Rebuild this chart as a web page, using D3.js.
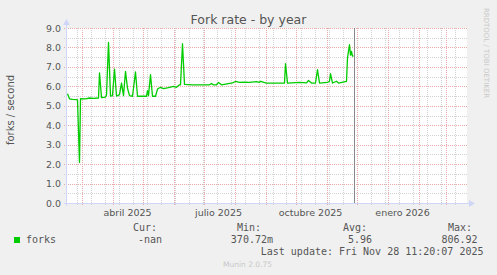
<!DOCTYPE html>
<html>
<head>
<meta charset="utf-8">
<script src="https://cdn.jsdelivr.net/npm/d3@7"></script>
<style>
body { margin:0; background:#f0f0f0; }
svg { display:block; }
</style>
</head>
<body>
<svg id="chart" width="497" height="275"></svg>
<script>
// forks/second (points where the line changes)
var dates = ["2025-02-15","2025-02-17","2025-02-20","2025-02-24","2025-02-25","2025-02-27","2025-02-28",
  "2025-03-05","2025-03-09","2025-03-13","2025-03-18","2025-03-19","2025-03-21","2025-03-25","2025-03-26",
  "2025-03-28","2025-03-30","2025-04-01","2025-04-03","2025-04-05","2025-04-08","2025-04-10","2025-04-12",
  "2025-04-14","2025-04-16","2025-04-18","2025-04-21","2025-04-24","2025-04-26","2025-05-05","2025-05-06",
  "2025-05-07","2025-05-09","2025-05-11","2025-05-14","2025-05-16","2025-05-19","2025-05-22","2025-05-27",
  "2025-06-01","2025-06-04","2025-06-07","2025-06-08","2025-06-10","2025-06-12","2025-06-20","2025-07-01",
  "2025-07-07","2025-07-09","2025-07-11","2025-07-14","2025-07-16","2025-07-19","2025-07-30","2025-08-02",
  "2025-08-06","2025-08-11","2025-08-16","2025-08-23","2025-08-26","2025-08-27","2025-09-02","2025-09-20",
  "2025-09-21","2025-09-23","2025-10-05","2025-10-12","2025-10-14","2025-10-17","2025-10-21","2025-10-23",
  "2025-10-25","2025-11-02","2025-11-04","2025-11-05","2025-11-07","2025-11-11","2025-11-13","2025-11-21",
  "2025-11-22","2025-11-24","2025-11-25","2025-11-26","2025-11-27","2025-11-28"];
var values = [5.62,5.36,5.33,5.32,5.30,2.09,5.37,
  5.36,5.40,5.38,5.40,6.69,5.42,5.45,5.55,
  8.26,5.50,5.52,6.89,5.50,5.57,6.17,5.52,
  6.77,5.90,5.52,5.49,6.74,5.49,5.49,5.78,
  5.52,6.60,5.49,5.49,5.86,5.95,5.88,5.93,
  6.00,5.95,6.08,6.08,8.19,6.10,6.07,6.08,
  6.08,6.15,6.07,6.08,6.20,6.08,6.18,6.25,
  6.20,6.22,6.20,6.24,6.20,6.26,6.17,6.17,
  7.17,6.17,6.20,6.18,6.30,6.17,6.17,6.86,
  6.17,6.20,6.26,6.65,6.17,6.26,6.17,6.26,
  7.46,8.14,7.60,7.80,7.55,7.58];

var yTicks = [0,1,2,3,4,5,6,7,8,9];
var monthLabels = ["abril 2025","julio 2025","octubre 2025","enero 2026"];
var labelDates = ["2025-04-16","2025-07-16","2025-10-16","2026-01-16"];
var legendHeads = ["Cur:","Min:","Avg:","Max:"];
var legendValues = ["-nan","370.72m","5.96","806.92"];
var lastUpdate = "Last update: Fri Nov 28 11:20:07 2025";
var nowTime = new Date(2025,10,28,11,20,7);

var parse = d3.timeParse("%Y-%m-%d");
var data = dates.map(function(d,i){ return {t: parse(d), v: values[i]}; });

var svg = d3.select("#chart");
var left = 67, right = 467, topY = 28, bottom = 203;
var start = new Date(2025,1,14,12), end = new Date(2026,2,21,12);

var x = d3.scaleTime().domain([start,end]).range([left,right]);
var y = d3.scaleLinear().domain([0,9]).range([bottom,topY]);

var sans = "'DejaVu Sans', sans-serif";
var mono = "'DejaVu Sans Mono', monospace";
var font = "#555";
var minorCol = "#d2d2d2", majorCol = "#e8a9a9", axisCol = "#cfd6f8";

// canvas
svg.append("rect").attr("x",left).attr("y",topY).attr("width",right-left).attr("height",bottom-topY).attr("fill","#fff");

function px(v){ return Math.round(v)+0.5; }

// minor grid: every 0.5 / every two weeks
var ref = new Date(2025,1,24);
var weeks = d3.timeMonday.range(start,end).filter(function(d){
  return Math.round((d-ref)/6048e5) % 2 === 0; });
var months = d3.timeMonth.range(start,end);
var halfTicks = d3.range(0.5,9,1);

svg.append("g").selectAll("line").data(halfTicks).enter().append("line")
  .attr("x1",left-3).attr("x2",right).attr("y1",function(d){return px(y(d));}).attr("y2",function(d){return px(y(d));})
  .attr("stroke",minorCol).attr("stroke-dasharray","1,1");
svg.append("g").selectAll("line").data(weeks).enter().append("line")
  .attr("x1",function(d){return px(x(d));}).attr("x2",function(d){return px(x(d));})
  .attr("y1",topY).attr("y2",bottom+3)
  .attr("stroke",minorCol).attr("stroke-dasharray","1,1");

// major grid
svg.append("g").selectAll("line").data(yTicks).enter().append("line")
  .attr("x1",left-3).attr("x2",right).attr("y1",function(d){return px(y(d));}).attr("y2",function(d){return px(y(d));})
  .attr("stroke",majorCol).attr("stroke-dasharray","1,1");
svg.append("g").selectAll("line").data(months).enter().append("line")
  .attr("x1",function(d){return px(x(d));}).attr("x2",function(d){return px(x(d));})
  .attr("y1",topY).attr("y2",bottom+3)
  .attr("stroke",majorCol).attr("stroke-dasharray","1,1");

// data line
svg.append("path").datum(data)
  .attr("d", d3.line().x(function(d){return x(d.t);}).y(function(d){return y(d.v);}))
  .attr("fill","none").attr("stroke","#00cc00").attr("stroke-width",1.3).attr("stroke-linejoin","round");

// now marker
svg.append("line").attr("x1",px(x(nowTime))).attr("x2",px(x(nowTime))).attr("y1",topY).attr("y2",bottom)
  .attr("stroke","#888").attr("stroke-width",1);

// axes with arrows
svg.append("line").attr("x1",left-0.5).attr("x2",left-0.5).attr("y1",bottom+3).attr("y2",topY-5).attr("stroke",axisCol);
svg.append("line").attr("x1",left-3).attr("x2",right+5).attr("y1",bottom+0.5).attr("y2",bottom+0.5).attr("stroke",axisCol);
svg.append("path").attr("d","M"+(left-4)+","+(topY-3)+"L"+(left-0.5)+","+(topY-9)+"L"+(left+3)+","+(topY-3)+"Z").attr("fill",axisCol);
svg.append("path").attr("d","M"+(right+2)+","+(bottom-3)+"L"+(right+8)+","+(bottom+0.5)+"L"+(right+2)+","+(bottom+4)+"Z").attr("fill",axisCol);

// y tick labels
svg.append("g").selectAll("text").data(yTicks).enter().append("text")
  .attr("x",61).attr("y",function(d){return y(d)+3.5;})
  .attr("text-anchor","end").style("font-family",sans).style("font-size","9.4px").attr("fill",font)
  .text(function(d){return d3.format(".1f")(d);});

// x labels (centred mid-month)
svg.append("g").selectAll("text").data(monthLabels).enter().append("text")
  .attr("x",function(d,i){return x(parse(labelDates[i]));}).attr("y",216)
  .attr("text-anchor","middle").style("font-family",sans).style("font-size","9.5px").attr("fill",font)
  .text(function(d){return d;});

// titles
svg.append("text").attr("x",248.5).attr("y",24).attr("text-anchor","middle")
  .style("font-family",sans).style("font-size","12.5px").attr("fill",font).text("Fork rate - by year");
svg.append("text").attr("transform","translate(14,110) rotate(-90)").attr("text-anchor","middle")
  .style("font-family",sans).style("font-size","10px").attr("fill",font).text("forks / second");
svg.append("text").attr("transform","translate(484,53) rotate(90)").attr("text-anchor","middle")
  .style("font-family",sans).style("font-size","7px").attr("fill","#c8c8c8").text("RRDTOOL / TOBI OETIKER");

// legend
var colX = [157,261,367,472], valX = [162,273,372,477.5];
svg.append("g").selectAll("text").data(legendHeads).enter().append("text")
  .attr("x",function(d,i){return colX[i];}).attr("y",230.5).attr("text-anchor","end")
  .style("font-family",mono).style("font-size","10px").attr("fill",font).text(function(d){return d;});
svg.append("g").selectAll("text").data(legendValues).enter().append("text")
  .attr("x",function(d,i){return valX[i];}).attr("y",243).attr("text-anchor","end")
  .style("font-family",mono).style("font-size","10px").attr("fill",font).text(function(d){return d;});
svg.append("rect").attr("x",14).attr("y",237).attr("width",6).attr("height",6).attr("fill","#00cc00");
svg.append("text").attr("x",26).attr("y",243).style("font-family",mono).style("font-size","10px").attr("fill",font).text("forks");
svg.append("text").attr("x",483.5).attr("y",255).attr("text-anchor","end")
  .style("font-family",mono).style("font-size","10px").attr("fill",font).text(lastUpdate);
svg.append("text").attr("x",247.5).attr("y",266.5).attr("text-anchor","middle")
  .style("font-family",sans).style("font-size","7.5px").attr("fill","#c8c8c8").text("Munin 2.0.75");
</script>
</body>
</html>
